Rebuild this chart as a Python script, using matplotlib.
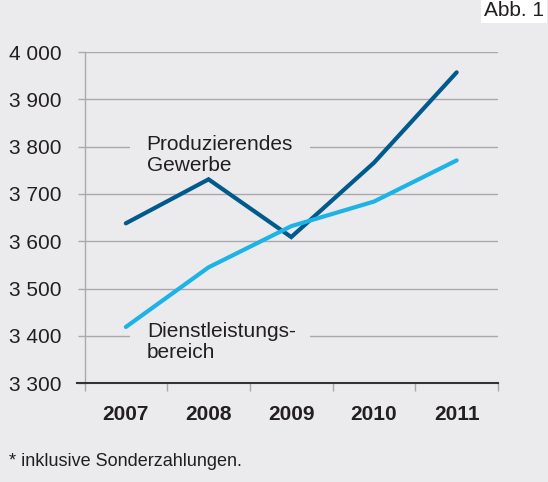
import matplotlib.pyplot as plt
from matplotlib.patches import Rectangle

plt.rcParams['font.family'] = ['Liberation Sans', 'DejaVu Sans']

# data
years = ['2007', '2008', '2009', '2010', '2011']
produzierend = [3638, 3731, 3609, 3766, 3957]
dienstleistung = [3419, 3545, 3632, 3684, 3771]
yticks = [3300, 3400, 3500, 3600, 3700, 3800, 3900, 4000]
ylabels = ['3 300', '3 400', '3 500', '3 600', '3 700', '3 800', '3 900', '4 000']

bg = '#ebebed'
dark = '#005a8c'
light = '#1db3e6'
grid = '#a9a9ab'
txt = '#231f20'

W, H = 548, 482
fig = plt.figure(figsize=(W / 100, H / 100), dpi=100, facecolor=bg)
ax = fig.add_axes([84.5 / W, (H - 383.3) / H, 413.5 / W, 331.3 / H])
ax.set_facecolor(bg)

ax.set_xlim(0, 5)
ax.set_ylim(3300, 4000)
ax.set_yticks(yticks)
ax.set_yticklabels(ylabels, fontsize=15, color=txt)
ax.tick_params(axis='y', length=5.3, width=1, color=grid, pad=11.5)
ax.yaxis.grid(True, color=grid, linewidth=1)
ax.set_axisbelow(True)

# year labels in the middle of each category, ticks on the boundaries
ax.set_xticks([i + 0.5 for i in range(len(years))])
ax.set_xticklabels(years, fontsize=15, fontweight='bold', color=txt)
ax.set_xticks(range(len(years) + 1), minor=True)
ax.tick_params(axis='x', which='major', length=0, pad=15.5)
ax.tick_params(axis='x', which='minor', length=5.5, width=1, color=grid)

for s in ['top', 'right', 'bottom']:
    ax.spines[s].set_visible(False)
ax.spines['left'].set_color(grid)
ax.spines['left'].set_linewidth(1)
ax.axhline(3300, xmin=-7.3 / 413.5, xmax=1, color='#333333', linewidth=1.5,
           clip_on=False, zorder=3)

xs = [i + 0.5 for i in range(len(years))]
ax.plot(xs, produzierend, color=dark, linewidth=3, solid_capstyle='round',
        solid_joinstyle='miter', zorder=5)
ax.plot(xs, dienstleistung, color=light, linewidth=3, solid_capstyle='round',
        solid_joinstyle='miter', zorder=5)

# series labels; the gridline behind each is broken by a small background strip
for gy in (3800, 3400):
    ax.add_patch(Rectangle((0.55, gy - 8), 2.18, 16, facecolor=bg, edgecolor='none', zorder=1))
ax.text(0.75, 3749, 'Produzierendes\nGewerbe', fontsize=15, color=txt, ha='left',
        va='baseline', linespacing=1.12, zorder=4)
ax.text(0.753, 3353, 'Dienstleistungs-\nbereich', fontsize=15, color=txt, ha='left',
        va='baseline', linespacing=1.12, zorder=4)

fig.text(9 / W, 1 - 461 / H, '* inklusive Sonderzahlungen.', fontsize=13, color=txt,
         ha='left', va='center')
fig.text(544 / W, 1 - 10.5 / H, 'Abb. 1', fontsize=15, color=txt, ha='right', va='center',
         bbox=dict(facecolor='white', edgecolor='none', boxstyle='square,pad=0.15'))

fig.savefig('out.png', dpi=100, facecolor=bg)
